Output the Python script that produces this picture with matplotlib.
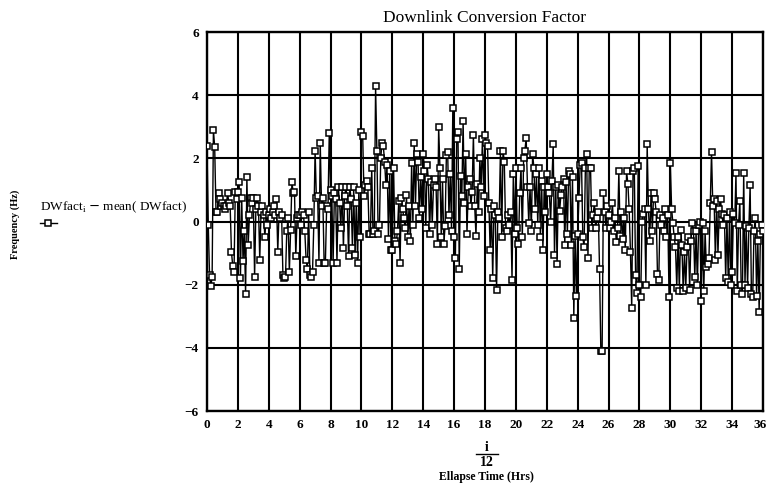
import matplotlib
matplotlib.use("Agg")
import matplotlib.pyplot as plt
from matplotlib.lines import Line2D
import matplotlib.transforms as mtransforms
import numpy as np

# DWfact_i - mean(DWfact), one value every 5 minutes (i/12 hours)
hrs_00_02 = [2.4, -0.1, -1.7, -2.05, -1.75, 2.9, 2.35, 0.3, 0.3, 0.9, 0.7, 0.5,
             0.6, 0.5, 0.4, 0.5, 0.9, 0.6, 0.5, -0.95, -1.4, -1.6, 0.95, 0.7]
hrs_02_04 = [0.95, 1.25, -1.8, 0.75, -1.25, -0.3, -2.3, 1.4, -0.75, 0.2, 0.75, 0.6,
             0.75, -1.75, 0.4, 0.75, 0.5, -1.2, 0.3, 0.5, 0.2, -0.5, 0.3, -0.1]
hrs_04_06 = [0.2, 0.4, 0.1, 0.3, 0.5, 0.2, 0.7, -0.95, 0.3, 0.1, 0.2, -1.7,
             -1.8, -1.75, -0.3, 0.1, -1.6, -0.25, 1.25, 0.9, 0.95, -1.1, 0.1, 0.2]
hrs_06_08 = [0.2, -0.1, 0.3, 0.2, -0.3, -1.2, -1.5, 0.3, -1.7, -1.75, -1.6, -0.1,
             2.25, 0.75, 0.8, -1.3, 2.5, 0.5, 0.75, -1.3, -1.3, 0.5, 0.4, 2.8]
hrs_08_10 = [1.0, 0.8, -1.3, 0.9, 0.7, -1.3, 1.1, 0.6, -0.2, 1.1, -0.85, 0.8,
             1.1, 0.5, -1.1, 1.1, 0.7, -0.85, 1.1, -1.05, 0.6, -1.3, 1.0, -0.5]
hrs_10_12 = [2.85, 2.7, 0.8, 1.15, 1.3, 1.1, -0.4, -0.4, 1.7, -0.4, -0.3, 4.3,
             2.25, -0.4, -0.1, 2.0, 2.5, 2.4, 1.9, 1.15, 1.8, -0.55, 1.6, -0.9]
hrs_12_14 = [-0.9, 1.7, -0.6, -0.7, -0.3, 0.65, -1.3, 0.75, 0.4, 0.1, -0.2, 0.85,
             -0.5, 0.5, -0.6, 1.85, -0.1, 2.5, 0.5, 2.15, 1.9, 0.1, 1.4, 0.4]
hrs_14_16 = [2.15, 1.6, -0.2, 1.8, 1.35, -0.4, 1.25, -0.1, 1.15, 1.35, 1.1, -0.7,
             3.0, 1.7, -0.5, 1.35, -0.7, -0.15, 2.1, 2.2, 0.2, 1.5, -0.3, 3.6]
hrs_16_18 = [-0.5, -1.15, 2.6, 2.85, -1.5, 1.45, 0.8, 3.2, 0.6, 2.15, -0.4, 1.1,
             1.35, 0.5, 0.95, 2.75, 0.5, -0.45, 1.2, 0.3, 2.0, 1.1, 2.6, 0.8]
hrs_18_20 = [2.75, 2.5, 2.4, 0.6, -0.9, 0.4, -1.8, 0.5, 0.2, -2.15, 0.3, 0.1,
             2.25, -0.5, 2.25, 1.9, -0.2, -0.3, 0.2, -0.1, 0.3, -1.85, 1.5, -0.4]
hrs_20_22 = [1.7, -0.2, -0.7, 0.9, 1.7, -0.5, 2.0, 2.25, 2.65, 1.1, -0.05, 1.1,
             -0.3, 2.15, 1.7, 0.4, 1.5, -0.1, 1.7, -0.5, 1.3, -0.9, 1.1, 0.3]
hrs_22_24 = [1.5, 1.1, 0.9, 0.0, 1.3, 2.45, -1.05, 1.1, -1.35, 1.15, 0.35, 0.85,
             1.1, 1.35, -0.75, 1.25, -0.4, 1.6, 1.5, -0.75, 1.4, -3.05, -0.45, -2.35]
hrs_24_26 = [-0.4, 0.75, 1.8, 1.85, -0.5, -0.8, 1.7, 2.15, -1.15, 1.7, 1.7, -0.2,
             0.2, 0.6, -0.2, 0.1, 0.3, -1.5, -4.1, -4.1, 0.9, 0.3, -0.2, 0.5]
hrs_26_28 = [0.2, -0.2, 0.0, 0.6, -0.3, 0.1, -0.65, -0.2, 1.6, -0.45, 0.3, -0.55,
             0.1, -0.9, 1.6, 1.2, 0.4, -0.95, -2.75, 1.6, 1.7, -1.7, -2.25, 1.75]
hrs_28_30 = [-2.0, -2.4, 0.0, 0.25, 0.4, -2.0, 2.45, 0.4, -0.6, 0.9, -0.3, 0.9,
             0.7, 0.3, -1.65, -1.85, 0.2, -0.1, 0.1, -0.3, 0.4, -0.5, 0.2, -2.4]
hrs_30_32 = [1.85, 0.4, -0.05, -0.5, -0.8, -2.1, -0.5, -2.2, -0.25, -0.75, -2.2, -0.95,
             -2.1, -0.8, -0.5, -2.15, -0.6, -0.05, -0.3, -1.75, -0.3, -2.0, -0.1, 0.0]
hrs_32_34 = [-2.5, -0.05, -2.2, -0.3, -1.45, -1.35, -1.15, 0.6, 2.2, 0.5, 0.7, -1.2,
             0.65, -1.05, 0.4, 0.7, 0.25, -0.1, 0.2, -1.8, 0.1, -1.9, 0.3, -2.0]
hrs_34_36 = [-1.6, 0.25, -0.05, 1.55, -2.2, -0.1, 0.65, -2.0, -2.3, 1.55, -2.0, -0.15,
             -2.1, -0.2, 1.15, -2.3, -2.4, -0.3, 0.1, -2.35, -0.6, -2.85, -0.4, -0.1]
hrs_36 = [-0.3]

x_ticks = list(range(0, 37, 2))
y_ticks = [-6, -4, -2, 0, 2, 4, 6]

serif = "Liberation Serif"


def main():
    dw = np.array(hrs_00_02 + hrs_02_04 + hrs_04_06 + hrs_06_08 + hrs_08_10
                  + hrs_10_12 + hrs_12_14 + hrs_14_16 + hrs_16_18 + hrs_18_20
                  + hrs_20_22 + hrs_22_24 + hrs_24_26 + hrs_26_28 + hrs_28_30
                  + hrs_30_32 + hrs_32_34 + hrs_34_36 + hrs_36)
    i = np.arange(len(dw))

    fig = plt.figure(figsize=(7.68, 4.93), dpi=100)
    ax = fig.add_axes([0.2695, 0.166, 0.724, 0.769])

    ax.plot(i / 12, dw, color="black", linewidth=1.0, marker="s", markersize=4.8,
            markerfacecolor="white", markeredgecolor="black", markeredgewidth=1.1,
            zorder=3)

    ax.set_xlim(0, 36)
    ax.set_ylim(-6, 6)
    ax.set_xticks(x_ticks)
    ax.set_yticks(y_ticks)
    ax.grid(True, color="black", linewidth=1.5)
    ax.tick_params(length=0, pad=6)
    for lab in ax.get_xticklabels() + ax.get_yticklabels():
        lab.set_fontfamily(serif)
        lab.set_fontweight("bold")
        lab.set_fontsize(9.5)
    # last label sits a little inside the right edge, as in the scan
    last = ax.get_xticklabels()[-1]
    last.set_transform(last.get_transform()
                       + mtransforms.ScaledTranslation(-3 / 100, 0, fig.dpi_scale_trans))
    for s in ax.spines.values():
        s.set_linewidth(1.7)

    ax.set_title("Downlink Conversion Factor", fontfamily=serif, fontsize=12.5, pad=7)

    # x label drawn as the Mathcad fraction i/12 and the caption below it
    cx = 0.634
    fig.text(cx, 0.093, "i", ha="center", va="center", fontfamily=serif,
             fontweight="bold", fontsize=10)
    fig.add_artist(Line2D([cx - 0.014, cx + 0.014], [0.079, 0.079],
                          color="black", linewidth=1.0))
    fig.text(cx, 0.062, "12", ha="center", va="center", fontfamily=serif,
             fontweight="bold", fontsize=10)
    fig.text(cx, 0.032, "Ellapse Time (Hrs)", ha="center", va="center",
             fontfamily=serif, fontweight="bold", fontsize=8.5)

    fig.text(0.02, 0.545, "Frequency (Hz)", rotation=90, ha="center", va="center",
             fontfamily=serif, fontweight="bold", fontsize=7.5)

    # legend written beside the axes
    fig.text(0.052, 0.58, r"DWfact$_\mathregular{i}$ $-$ mean( DWfact)",
             ha="left", va="center", fontfamily=serif, fontsize=9.5)
    fig.add_artist(Line2D([0.052, 0.074], [0.548, 0.548], color="black",
                          linewidth=1.0))
    fig.add_artist(Line2D([0.063], [0.548], color="black", linestyle="none",
                          marker="s", markersize=4.8, markerfacecolor="white",
                          markeredgecolor="black", markeredgewidth=1.1))

    fig.savefig("out.png", dpi=100)


if __name__ == "__main__":
    main()
